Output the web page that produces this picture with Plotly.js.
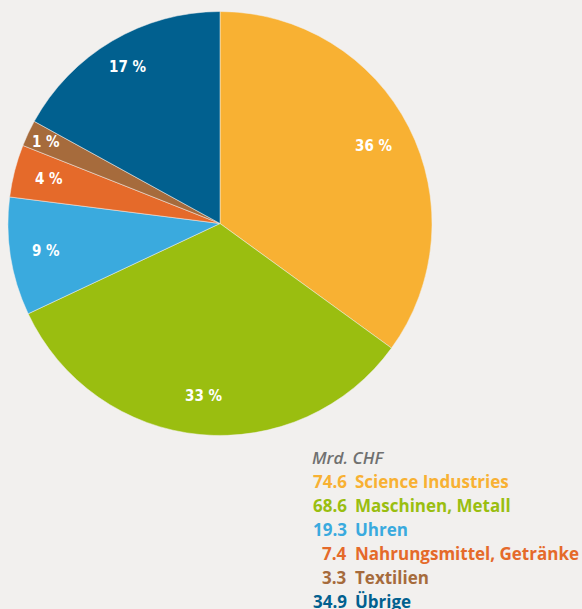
<!DOCTYPE html>
<html><head><meta charset="utf-8">
<script src="https://cdn.plot.ly/plotly-3.0.1.min.js"></script>
<style>html,body{margin:0;padding:0;background:#f2f0ee;}#chart{width:582px;height:609px;}</style>
</head><body><div id="chart"></div>
<script>
const categories = ["Science Industries","Maschinen, Metall","Uhren","Nahrungsmittel, Getränke","Textilien","Übrige"];
const values = [74.6, 68.6, 19.3, 7.4, 3.3, 34.9];          // Mrd. CHF (legend)
const valueLabels = ["74.6","68.6","19.3","7.4","3.3","34.9"];
const sliceShares = [35, 33, 9, 4, 2, 17];                    // slice sizes as drawn (%)
const pctLabels = ["36 %","33 %","9 %","4 %","1 %","17 %"];
const colors = ["#f8b133","#9abe10","#3aaade","#e56a2a","#a66b3c","#01608f"];
const unitLabel = "Mrd. CHF";

const W = 582, H = 609;
const cx = 220, cy = 223.5, R = 212;
const dom = {x:[(cx-R)/W,(cx+R)/W], y:[1-(cy+R)/H, 1-(cy-R)/H]};

const total = sliceShares.reduce((a,b)=>a+b,0);
const annotations = [];
let cum = 0;
const labelR = [0.81,0.815,0.83,0.835,0.905,0.855];
sliceShares.forEach((v,i)=>{
  const mid = (cum + v/2)/total; cum += v;
  const th = 2*Math.PI*mid;
  const px = cx + labelR[i]*R*Math.sin(th);
  const py = cy - labelR[i]*R*Math.cos(th);
  annotations.push({x:px/W, y:1-py/H, xref:'paper', yref:'paper', text:pctLabels[i], showarrow:false,
    xanchor:'center', yanchor:'middle',
    font:{family:'DejaVu Sans Condensed, sans-serif', size:15, color:'#ffffff', weight:700}});
});

const legFont = 'Open Sans, Noto Sans, sans-serif';
const y0 = 457, dy = 24.1;
annotations.push({x:310/W, y:1-y0/H, xref:'paper', yref:'paper', text:'<i>'+unitLabel+'</i>', showarrow:false,
  xanchor:'left', yanchor:'middle', font:{family:legFont, size:17, color:'#707070', weight:600}});
categories.forEach((c,i)=>{
  const yy = 1-(y0+dy*(i+1))/H;
  annotations.push({x:349/W, y:yy, xref:'paper', yref:'paper', text:valueLabels[i], showarrow:false,
    xanchor:'right', yanchor:'middle', font:{family:legFont, size:17, color:colors[i], weight:700}});
  annotations.push({x:353/W, y:yy, xref:'paper', yref:'paper', text:c, showarrow:false,
    xanchor:'left', yanchor:'middle', font:{family:legFont, size:17, color:colors[i], weight:700}});
});

Plotly.newPlot('chart', [{
  type:'pie', values:sliceShares, labels:categories, customdata:values, sort:false, direction:'clockwise', rotation:0,
  marker:{colors:colors, line:{color:'#f2f0ee', width:0.5}},
  textinfo:'none', hovertemplate:'%{label}: %{customdata} Mrd. CHF<extra></extra>', domain:dom
}], {
  width:W, height:H, margin:{l:0,r:0,t:0,b:0}, showlegend:false,
  paper_bgcolor:'#f2f0ee', plot_bgcolor:'#f2f0ee', annotations:annotations
}, {displayModeBar:false, staticPlot:true});
</script></body></html>
